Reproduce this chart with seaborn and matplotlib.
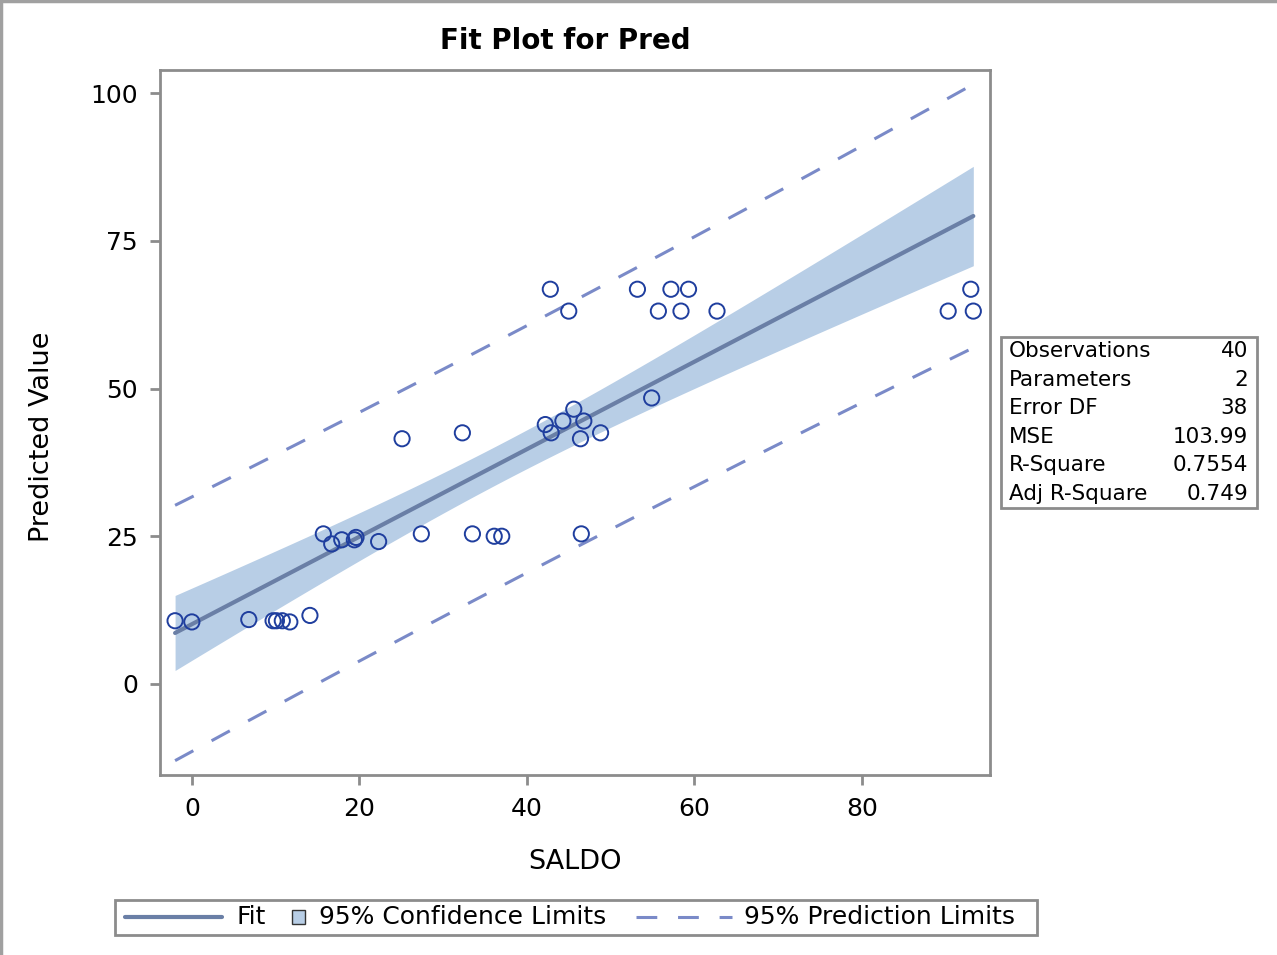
import numpy as np
import pandas as pd
import matplotlib
matplotlib.use("Agg")
import matplotlib.pyplot as plt
from matplotlib.lines import Line2D
from matplotlib.patches import Rectangle
import seaborn as sns

# Observations: SALDO vs predicted value
saldo = [-2.0, 0.0, 6.8, 9.7, 10.1, 10.8, 11.7, 14.1,
         15.7, 16.7, 17.9, 19.4, 19.6, 22.3, 25.1, 27.4,
         32.3, 33.5, 36.1, 37.0, 42.2, 42.8, 42.9, 44.3,
         45.0, 45.6, 46.4, 46.5, 46.8, 48.8, 53.2, 54.9,
         55.7, 57.2, 58.4, 59.3, 62.7, 90.3, 93.0, 93.3]
pred = [10.7, 10.5, 10.9, 10.7, 10.7, 10.7, 10.5, 11.6,
        25.4, 23.7, 24.4, 24.4, 24.8, 24.1, 41.5, 25.4,
        42.5, 25.4, 25.0, 25.0, 43.9, 66.8, 42.5, 44.5,
        63.1, 46.5, 41.5, 25.4, 44.5, 42.5, 66.8, 48.4,
        63.1, 66.8, 63.1, 66.8, 63.1, 63.1, 66.8, 63.1]

stat_names = ["Observations", "Parameters", "Error DF", "MSE", "R-Square", "Adj R-Square"]
stat_values = ["40", "2", "38", "103.99", "0.7554", "0.749"]

x_ticks = [0, 20, 40, 60, 80]
y_ticks = [0, 25, 50, 75, 100]

legend_labels = ["Fit", "95% Confidence Limits", "95% Prediction Limits"]

df = pd.DataFrame({"SALDO": saldo, "Pred": pred})

# Ordinary least squares fit with confidence and prediction limits
x = np.asarray(saldo)
y = np.asarray(pred)
n = len(x)
X = np.column_stack([np.ones(n), x])
beta, *_ = np.linalg.lstsq(X, y, rcond=None)
resid = y - X @ beta
dfe = n - 2
mse = resid @ resid / dfe
t975 = 2.024394164  # t quantile, 38 df
xbar = x.mean()
sxx = ((x - xbar) ** 2).sum()
grid = np.linspace(x.min(), x.max(), 200)
fit = beta[0] + beta[1] * grid
se_mean = np.sqrt(mse * (1.0 / n + (grid - xbar) ** 2 / sxx))
se_pred = np.sqrt(mse * (1.0 + 1.0 / n + (grid - xbar) ** 2 / sxx))
band = pd.DataFrame({
    "SALDO": grid, "fit": fit,
    "clm_lo": fit - t975 * se_mean, "clm_hi": fit + t975 * se_mean,
    "cli_lo": fit - t975 * se_pred, "cli_hi": fit + t975 * se_pred,
})

sns.set_theme(style="white")
plt.rcParams["font.family"] = ["DejaVu Sans"]
plt.rcParams["text.color"] = "black"
plt.rcParams["axes.labelcolor"] = "black"
plt.rcParams["xtick.labelcolor"] = "black"
plt.rcParams["ytick.labelcolor"] = "black"

FIT_C = "#6A7FA6"
BAND_C = "#B8CEE6"
PRED_C = "#7A8AC8"
MARK_C = "#1F3E9E"
FRAME_C = "#8C8C8C"
DASH = [6.8, 6.8]

fig = plt.figure(figsize=(12.77, 9.55), dpi=100)
ax = fig.add_axes([0.1253, 0.1885, 0.65, 0.7382])

ax.fill_between(band["SALDO"], band["clm_lo"], band["clm_hi"],
                color=BAND_C, linewidth=0, zorder=1)
sns.lineplot(data=band, x="SALDO", y="fit", color=FIT_C, linewidth=3,
             ax=ax, zorder=3)
for col in ["cli_lo", "cli_hi"]:
    sns.lineplot(data=band, x="SALDO", y=col, color=PRED_C, linewidth=2.2,
                 ax=ax, zorder=2)
    ax.lines[-1].set_dashes(DASH)
sns.scatterplot(data=df, x="SALDO", y="Pred", marker="o", s=120,
                facecolors="none", edgecolor=MARK_C, linewidth=1.4,
                ax=ax, zorder=4)

ax.set_xlim(-3.8, 95.3)
ax.set_ylim(-15.4, 103.9)
ax.set_xticks(x_ticks)
ax.set_yticks(y_ticks)
ax.tick_params(axis="both", labelsize=18, length=7, width=2,
               color=FRAME_C, direction="out", bottom=True, left=True, pad=9)
for s in ax.spines.values():
    s.set_color(FRAME_C)
    s.set_linewidth(2)
ax.set_xlabel("SALDO", fontsize=19.5)
ax.set_ylabel("Predicted Value", fontsize=19.5)
ax.xaxis.set_label_coords(0.5, -(862 - 775) / 705, transform=ax.transAxes)
ax.xaxis.label.set_va("center")
ax.yaxis.set_label_coords((42 - 160) / 830, 1 - (436.5 - 70) / 705,
                          transform=ax.transAxes)
ax.yaxis.label.set_va("center")
ax.set_title("Fit Plot for Pred", fontsize=20, fontweight="bold",
             x=(565 - 160) / 830, pad=15)

# Summary statistics inset
box_l, box_r = 1001 / 1277, 1257 / 1277
box_t, box_b = 1 - 337 / 955, 1 - 508 / 955
fig.patches.append(Rectangle((box_l, box_b), box_r - box_l, box_t - box_b,
                             transform=fig.transFigure, fill=False,
                             edgecolor=FRAME_C, linewidth=2))
row_h = (box_t - box_b) / len(stat_names)
for i, (name, val) in enumerate(zip(stat_names, stat_values)):
    yy = box_t - (i + 0.5) * row_h
    fig.text(1009 / 1277, yy, name, fontsize=15.5, va="center", ha="left")
    fig.text(1248 / 1277, yy, val, fontsize=15.5, va="center", ha="right")

# Legend strip along the bottom
W, H = 1277.0, 955.0
ly = 1 - 917 / H
fig.patches.append(Rectangle((115 / W, 1 - 935 / H), (1037 - 115) / W, 35 / H,
                             transform=fig.transFigure, fill=False,
                             edgecolor=FRAME_C, linewidth=2))
fig.add_artist(Line2D([125 / W, 222 / W], [ly, ly], transform=fig.transFigure,
                      color=FIT_C, linewidth=3))
fig.text(236 / W, ly, legend_labels[0], fontsize=18, va="center", ha="left")
fig.patches.append(Rectangle((292 / W, 1 - 924 / H), 13 / W, 14 / H,
                             transform=fig.transFigure, facecolor=BAND_C,
                             edgecolor="#333333", linewidth=1))
fig.text(319 / W, ly, legend_labels[1], fontsize=18, va="center", ha="left")
dash_line = Line2D([636 / W, 732 / W], [ly, ly], transform=fig.transFigure,
                   color=PRED_C, linewidth=2.2)
dash_line.set_dashes(DASH)
fig.add_artist(dash_line)
fig.text(744 / W, ly, legend_labels[2], fontsize=18, va="center", ha="left")

# Outer image edge
fig.add_artist(Line2D([0.001, 0.001], [0, 1], transform=fig.transFigure,
                      color="#A0A0A0", linewidth=2.5))
fig.add_artist(Line2D([0, 1], [0.999, 0.999], transform=fig.transFigure,
                      color="#A0A0A0", linewidth=2.5))

fig.savefig("out.png", dpi=100)
